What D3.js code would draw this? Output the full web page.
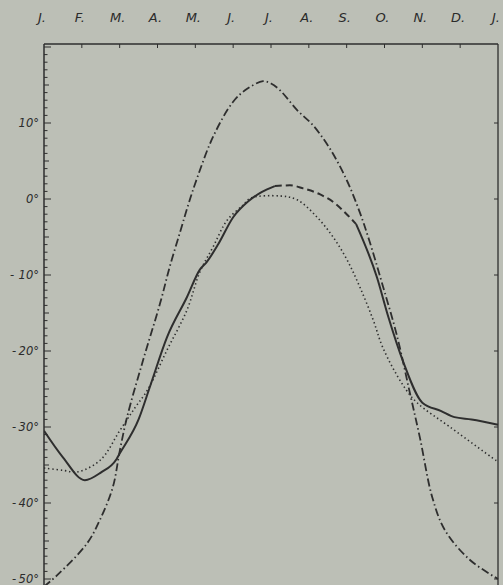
<!DOCTYPE html>
<html>
<head>
<meta charset="utf-8">
<script src="https://cdn.jsdelivr.net/npm/d3@7"></script>
<style>
  body { margin: 0; background: #bcbfb6; }
  svg { display: block; }
  text { font-family: "DejaVu Sans", sans-serif; font-style: italic; fill: #2b2b2b; }
</style>
</head>
<body>
<script>
// month labels along the top (month boundaries, Jan .. Jan)
var monthLabels = ["J.", "F.", "M.", "A.", "M.", "J.", "J.", "A.", "S.", "O.", "N.", "D.", "J."];
var tempTicks = [10, 0, -10, -20, -30, -40, -50];

// solid curve (null = break where the dashed part takes over)
var solidMonths = [0, 0.5, 1.08, 1.5, 1.92, 2.0, 2.5, 2.8, 3.25, 3.78, 4.12, 4.3, 4.6, 5.0, 5.4, 5.75, 6.1,
                   6.11, 8.24,
                   8.25, 8.8, 9.1, 9.5, 10.0, 10.5, 10.85, 11.3, 12];
var solidTemps  = [-30.5, -34, -37, -36, -34.2, -33.5, -29, -24.7, -18.2, -12.9, -9.3, -8.3, -6, -2.4, -0.3, 0.9, 1.7,
                   null, null,
                   -3.3, -10.3, -15.5, -21.5, -26.8, -27.9, -28.7, -29.0, -29.7];

// dashed part of the same curve (July - September)
var dashedMonths = [6.1, 6.5, 6.85, 7.3, 7.7, 8.0, 8.25];
var dashedTemps  = [1.7, 1.8, 1.4, 0.6, -0.6, -2, -3.3];

// dotted curve
var dottedMonths = [0, 0.5, 0.9, 1.5, 2.0, 2.4, 2.74, 3.25, 3.78, 4.12, 4.47, 4.84, 5.26, 5.45, 6.24, 6.69,
                    7.22, 7.64, 8.01, 8.35, 8.7, 8.96, 9.49, 9.86, 10.73, 12];
var dottedTemps  = [-35.4, -35.7, -35.9, -34.3, -30.5, -27.5, -25.1, -19.9, -14.6, -9.6, -6.3, -2.8, -0.8, 0.1, 0.4, -0.1,
                    -2.4, -5, -8, -11.6, -15.9, -19.6, -24.5, -26.8, -30, -34.6];

// dash-dot curve
var dashDotMonths = [0, 0.37, 1.14, 1.48, 1.82, 2.0, 2.2, 2.62, 3.07, 3.33, 3.6, 3.81, 4.05, 4.47, 5.0, 5.37,
                     5.79, 6.0, 6.24, 6.69, 7.11, 7.56, 8.0, 8.35, 8.6, 8.96, 9.33, 9.67, 9.94, 10.26, 10.6, 11.26, 12];
var dashDotTemps  = [-51, -49.4, -45.3, -42.2, -37.9, -33.2, -28.6, -21.2, -13.7, -8.8, -4.3, -0.8, 2.8, 8.2, 12.8, 14.5,
                     15.5, 15.2, 14.3, 11.7, 9.7, 6.6, 2.5, -1.8, -5.5, -11.5, -18, -25.5, -31.5, -39.2, -43.6, -47.5, -50];

var width = 503, height = 585;
var plotLeft = 44, plotRight = 498, plotTop = 44;

var x = d3.scaleLinear().domain([0, 12]).range([plotLeft, plotRight]);
var y = d3.scaleLinear().domain([0, -50]).range([199, 579]);

var svg = d3.select("body").append("svg")
    .attr("width", width)
    .attr("height", height);

var ink = "#2e2e2e";

// frame
svg.append("line").attr("x1", plotLeft).attr("x2", plotRight).attr("y1", plotTop).attr("y2", plotTop)
    .attr("stroke", ink).attr("stroke-width", 1.3);
svg.append("line").attr("x1", plotLeft).attr("x2", plotLeft).attr("y1", plotTop).attr("y2", height)
    .attr("stroke", ink).attr("stroke-width", 1.5);
svg.append("line").attr("x1", plotRight).attr("x2", plotRight).attr("y1", plotTop).attr("y2", height)
    .attr("stroke", ink).attr("stroke-width", 1.3);

// month ticks + labels
svg.selectAll(".mtick").data(d3.range(1, 12)).enter().append("line")
    .attr("x1", function (d) { return x(d); })
    .attr("x2", function (d) { return x(d); })
    .attr("y1", plotTop).attr("y2", plotTop + 4)
    .attr("stroke", ink).attr("stroke-width", 1);

svg.selectAll(".mlab").data(monthLabels).enter().append("text")
    .attr("x", function (d, i) { return x(i) - 2; })
    .attr("y", 22)
    .attr("text-anchor", "middle")
    .attr("font-size", 13)
    .text(function (d) { return d; });

// left axis ticks, every degree
var degs = d3.range(-51, 21);
svg.selectAll(".ytick").data(degs).enter().append("line")
    .attr("x1", plotLeft)
    .attr("x2", function (d) { return plotLeft + (d % 10 === 0 ? 7 : d % 5 === 0 ? 5 : 3.5); })
    .attr("y1", function (d) { return y(d); })
    .attr("y2", function (d) { return y(d); })
    .attr("stroke", ink).attr("stroke-width", 1);

// right side ticks
svg.selectAll(".rtick").data(tempTicks).enter().append("line")
    .attr("x1", plotRight - 4).attr("x2", plotRight)
    .attr("y1", function (d) { return y(d); })
    .attr("y2", function (d) { return y(d); })
    .attr("stroke", ink).attr("stroke-width", 1);

// y labels
svg.selectAll(".ylab").data(tempTicks).enter().append("text")
    .attr("x", 39)
    .attr("y", function (d) { return y(d) + 4; })
    .attr("text-anchor", "end")
    .attr("font-size", 11.5)
    .text(function (d) { return Math.abs(d) + "°"; });

svg.selectAll(".yminus").data(tempTicks.filter(function (d) { return d < 0; })).enter().append("text")
    .attr("x", function (d) { return d === -10 ? 10 : 12; })
    .attr("y", function (d) { return y(d) + 4; })
    .attr("font-size", 11.5)
    .text("-");

// curves
function makeLine(curve) {
    return d3.line()
        .defined(function (d) { return d[1] !== null; })
        .x(function (d) { return x(d[0]); })
        .y(function (d) { return y(d[1]); })
        .curve(curve);
}
function pairs(ms, ts) { return ms.map(function (m, i) { return [m, ts[i]]; }); }

svg.append("clipPath").attr("id", "plot").append("rect")
    .attr("x", plotLeft).attr("y", plotTop).attr("width", plotRight - plotLeft + 2).attr("height", height - plotTop);

var g = svg.append("g").attr("clip-path", "url(#plot)");

g.append("path").datum(pairs(dashDotMonths, dashDotTemps))
    .attr("d", makeLine(d3.curveCatmullRom.alpha(0.5)))
    .attr("fill", "none").attr("stroke", ink).attr("stroke-width", 1.8)
    .attr("stroke-dasharray", "8,3,1.5,3");

g.append("path").datum(pairs(dottedMonths, dottedTemps))
    .attr("d", makeLine(d3.curveCatmullRom.alpha(0.5)))
    .attr("fill", "none").attr("stroke", ink).attr("stroke-width", 1.6)
    .attr("stroke-dasharray", "1.4,2.8");

g.append("path").datum(pairs(solidMonths, solidTemps))
    .attr("d", makeLine(d3.curveMonotoneX))
    .attr("fill", "none").attr("stroke", ink).attr("stroke-width", 2);

g.append("path").datum(pairs(dashedMonths, dashedTemps))
    .attr("d", makeLine(d3.curveMonotoneX))
    .attr("fill", "none").attr("stroke", ink).attr("stroke-width", 2)
    .attr("stroke-dasharray", "7,4");
</script>
</body>
</html>
